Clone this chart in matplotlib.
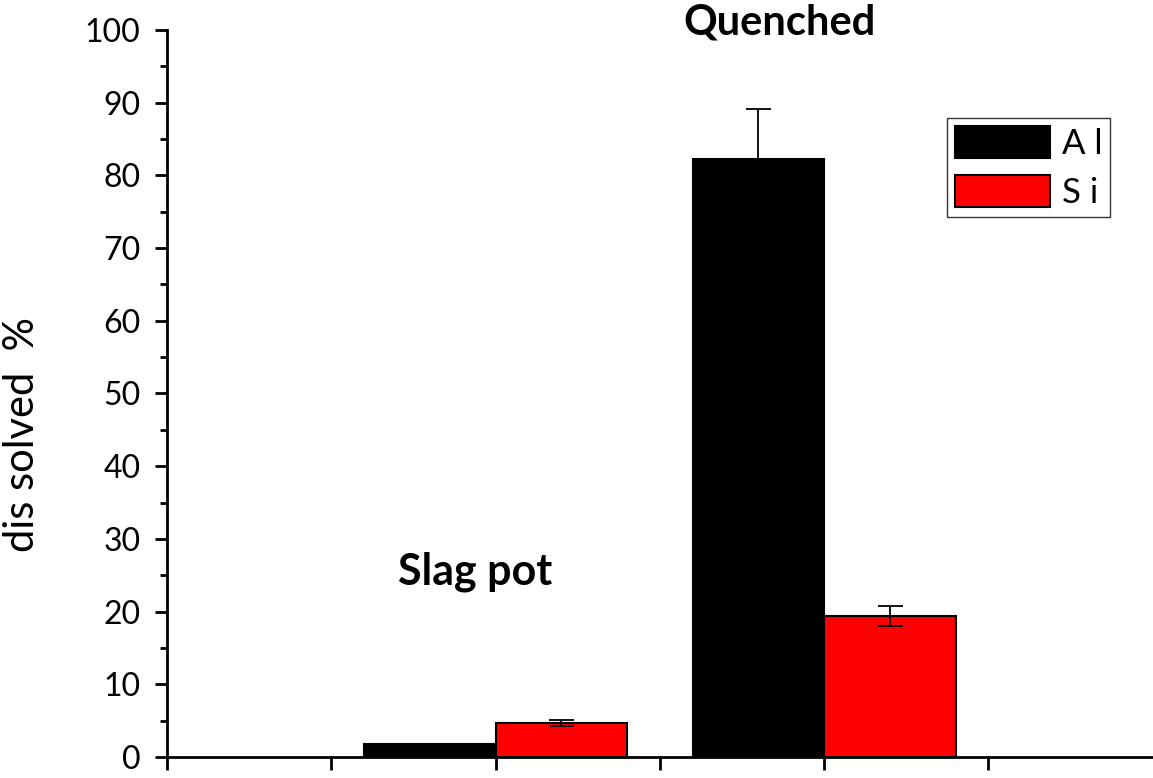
import numpy as np
import matplotlib.pyplot as plt

# Data
groups = ['Slag pot', 'Quenched']
al_values = [1.8, 82.3]
al_errors = [0.0, 6.8]
si_values = [4.7, 19.4]
si_errors = [0.4, 1.35]

group_pos = np.array([2.0, 4.0])
bar_width = 0.8

plt.rcParams['font.family'] = ['Lato', 'DejaVu Sans']

fig = plt.figure(figsize=(11.53, 7.78), dpi=100)
ax = fig.add_axes([0.1448, 0.027, 0.855, 0.9345])

err_kw = dict(ecolor='black', elinewidth=1.3, capsize=9, capthick=1.3)
ax.bar(group_pos - bar_width / 2, al_values, bar_width, yerr=al_errors,
       color='black', edgecolor='black', linewidth=1.5, label='A l', error_kw=err_kw)
ax.bar(group_pos + bar_width / 2, si_values, bar_width, yerr=si_errors,
       color='#ff0000', edgecolor='black', linewidth=1.5, label='S i', error_kw=err_kw)

ax.set_xlim(0, 6)
ax.set_ylim(0, 100)
ax.set_xticks([0, 1, 2, 3, 4, 5])
ax.set_xticklabels([])
ax.set_yticks(np.arange(0, 101, 10))
ax.set_yticks(np.arange(5, 100, 10), minor=True)
ax.tick_params(axis='both', which='major', direction='out', length=9, width=2, labelsize=23)
ax.tick_params(axis='y', which='minor', direction='out', length=5, width=2)
ax.tick_params(axis='y', pad=10)

for side in ['top', 'right']:
    ax.spines[side].set_visible(False)
for side in ['left', 'bottom']:
    ax.spines[side].set_linewidth(2)

ax.set_ylabel('dis solved  %', fontsize=30)
ax.yaxis.set_label_coords(-0.128, 0.444)

ax.text(1.876, 25.5, groups[0], fontsize=31, fontweight='bold', ha='center', va='center')
ax.text(3.73, 101.0, groups[1], fontsize=30, fontweight='bold', ha='center', va='center',
        clip_on=False)

leg = ax.legend(loc='upper right', bbox_to_anchor=(0.957, 0.879), fontsize=25,
                frameon=True, fancybox=False, edgecolor='black', handlelength=2.75,
                handleheight=1.05, borderpad=0.22, labelspacing=0.45, handletextpad=0.35,
                borderaxespad=0)
leg.get_frame().set_linewidth(1)

fig.savefig('out.png', dpi=100)
